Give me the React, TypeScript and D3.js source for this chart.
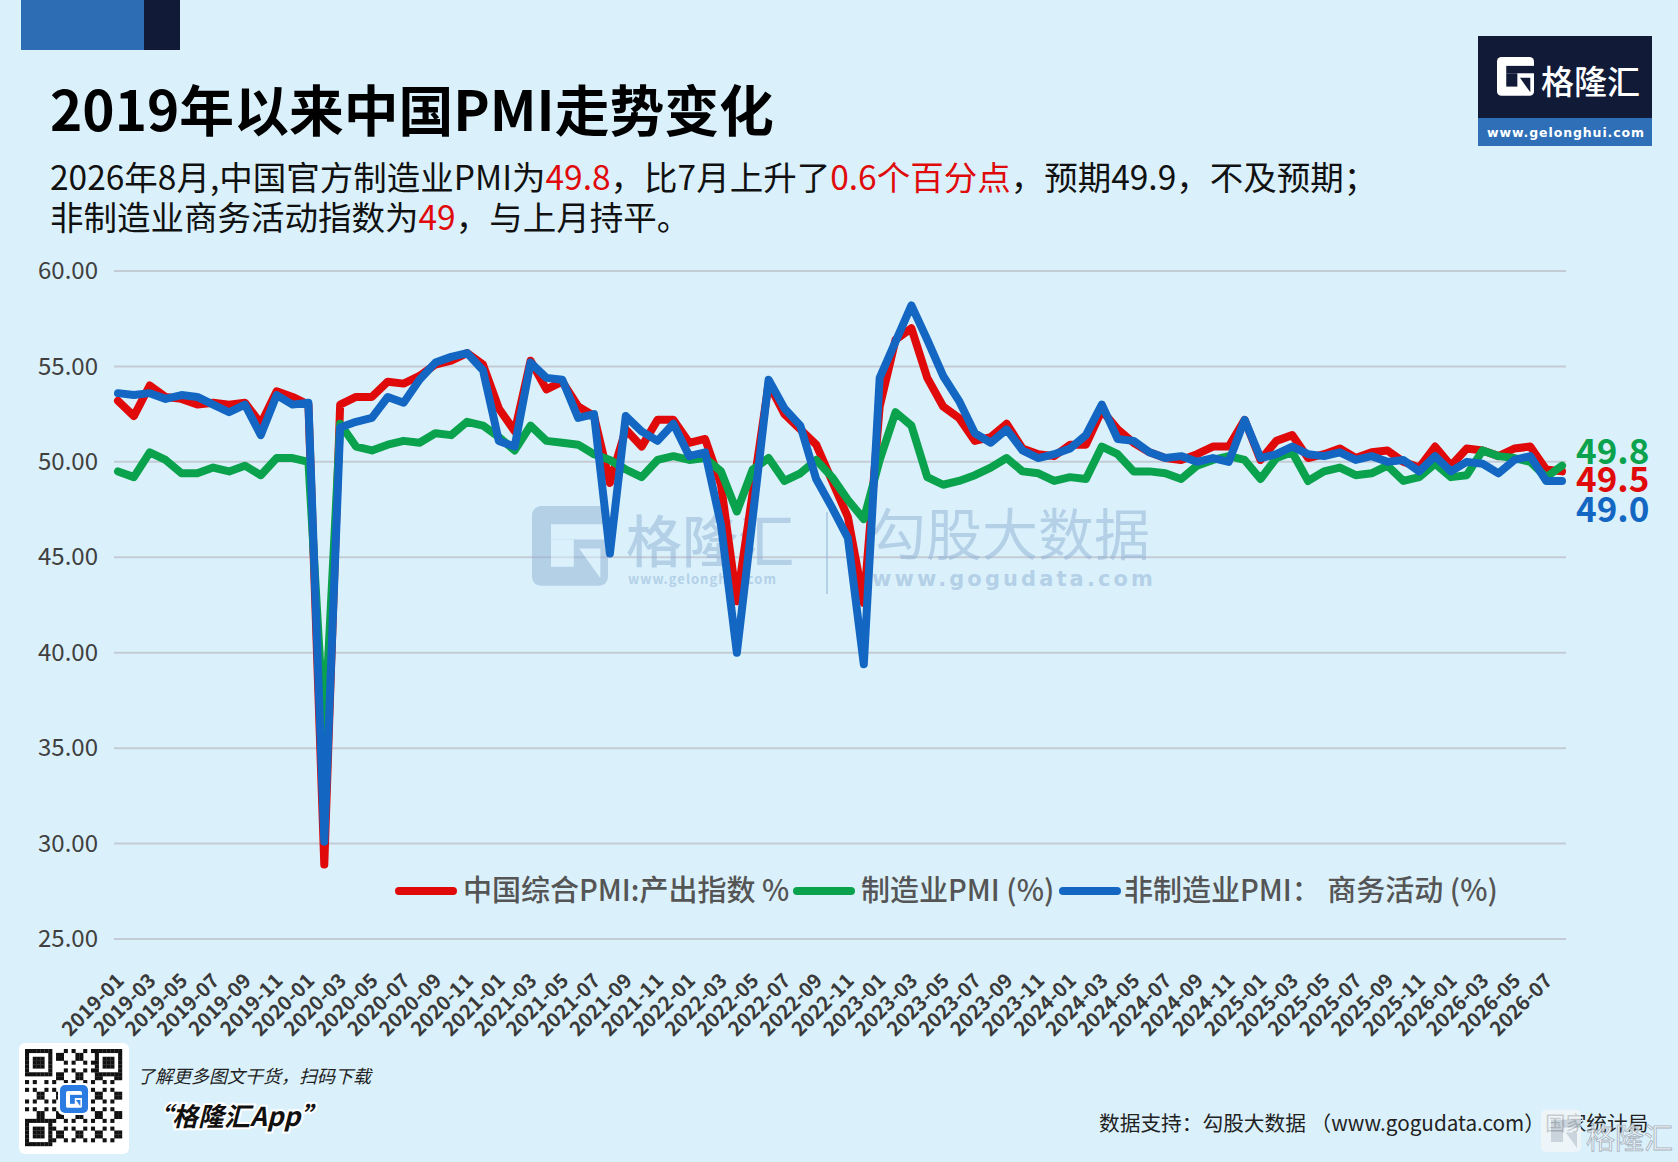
import React, { useEffect, useRef } from 'react';
import * as d3 from 'd3';

// monthly categories 2019-01 .. 2026-08
const months: string[] = [];
for (let yr = 2019; yr <= 2026; yr++) {
  for (let m = 1; m <= 12; m++) {
    if (yr === 2026 && m > 8) break;
    months.push(`${yr}-${String(m).padStart(2, '0')}`);
  }
}

// 中国综合PMI:产出指数 %
const composite = [
  53.2, 52.4, 54.0, 53.4, 53.3, 53.0, 53.1, 53.0, 53.1, 52.0, 53.7, 53.4,
  53.0, 28.9, 53.0, 53.4, 53.4, 54.2, 54.1, 54.5, 55.1, 55.3, 55.7, 55.1,
  52.8, 51.6, 55.3, 53.8, 54.2, 52.9, 52.4, 48.9, 51.7, 50.8, 52.2, 52.2,
  51.0, 51.2, 48.8, 42.7, 48.4, 54.1, 52.5, 51.7, 50.9, 49.0, 47.1, 42.6,
  52.9, 56.4, 57.0, 54.4, 52.9, 52.3, 51.1, 51.3, 52.0, 50.7, 50.4, 50.3,
  50.9, 50.9, 52.7, 51.7, 51.0, 50.5, 50.2, 50.1, 50.4, 50.8, 50.8, 52.2,
  50.1, 51.1, 51.4, 50.2, 50.4, 50.7, 50.2, 50.5, 50.6, 50.0, 49.7, 50.8,
  49.8, 50.7, 50.6, 50.3, 50.7, 50.8, 49.6, 49.5,
];

// 制造业PMI (%)
const manufacturing = [
  49.5, 49.2, 50.5, 50.1, 49.4, 49.4, 49.7, 49.5, 49.8, 49.3, 50.2, 50.2,
  50.0, 35.7, 52.0, 50.8, 50.6, 50.9, 51.1, 51.0, 51.5, 51.4, 52.1, 51.9,
  51.3, 50.6, 51.9, 51.1, 51.0, 50.9, 50.4, 50.1, 49.6, 49.2, 50.1, 50.3,
  50.1, 50.2, 49.5, 47.4, 49.6, 50.2, 49.0, 49.4, 50.1, 49.2, 48.0, 47.0,
  50.1, 52.6, 51.9, 49.2, 48.8, 49.0, 49.3, 49.7, 50.2, 49.5, 49.4, 49.0,
  49.2, 49.1, 50.8, 50.4, 49.5, 49.5, 49.4, 49.1, 49.8, 50.1, 50.3, 50.1,
  49.1, 50.2, 50.5, 49.0, 49.5, 49.7, 49.3, 49.4, 49.8, 49.0, 49.2, 49.9,
  49.2, 49.3, 50.6, 50.3, 50.2, 50.0, 49.2, 49.8,
];

// 非制造业PMI：商务活动 (%)
const nonManufacturing = [
  53.6, 53.5, 53.6, 53.3, 53.5, 53.4, 53.0, 52.6, 53.0, 51.4, 53.5, 53.0,
  53.1, 30.1, 51.8, 52.1, 52.3, 53.4, 53.1, 54.3, 55.2, 55.5, 55.7, 54.8,
  51.1, 50.8, 55.2, 54.4, 54.3, 52.3, 52.5, 45.2, 52.4, 51.6, 51.1, 52.0,
  50.3, 50.5, 46.7, 40.0, 47.1, 54.3, 52.8, 51.9, 49.1, 47.6, 46.0, 39.4,
  54.4, 56.3, 58.2, 56.4, 54.5, 53.2, 51.5, 51.0, 51.7, 50.6, 50.2, 50.4,
  50.7, 51.4, 53.0, 51.2, 51.1, 50.5, 50.2, 50.3, 50.0, 50.2, 50.0, 52.2,
  50.2, 50.4, 50.8, 50.4, 50.3, 50.5, 50.1, 50.3, 50.0, 50.1, 49.5, 50.3,
  49.5, 50.0, 49.9, 49.4, 50.1, 50.3, 49.0, 49.0,
];

const yTicks = [25, 30, 35, 40, 45, 50, 55, 60];
const xTickLabels = months.filter((_, i) => i % 2 === 0);

const seriesNames = ['中国综合PMI:产出指数 %', '制造业PMI (%)', '非制造业PMI： 商务活动 (%)'];
const endLabels = ['49.8', '49.5', '49.0'];

const RED = '#e00a0a';
const GREEN = '#0aa24c';
const BLUE = '#1367c2';
const NAVY = '#111a36';
const FONT = '"Noto Sans CJK SC", "Noto Sans", sans-serif';

// draws the little "G" mark used in the logos
function drawG(g, x0, y0, s, fg, bg) {
  g.append('rect').attr('x', x0).attr('y', y0).attr('width', s).attr('height', s * 1.05)
    .attr('rx', s * 0.12).attr('fill', fg);
  g.append('rect').attr('x', x0 + s * 0.25).attr('y', y0 + s * 0.24)
    .attr('width', s * 0.75).attr('height', s * 0.2).attr('fill', bg);
  g.append('rect').attr('x', x0 + s * 0.25).attr('y', y0 + s * 0.44)
    .attr('width', s * 0.3).attr('height', s * 0.36).attr('fill', bg);
  g.append('path')
    .attr('d', `M${x0 + s * 0.62},${y0 + s * 0.56} L${x0 + s * 0.9},${y0 + s * 0.56} L${x0 + s * 0.9},${y0 + s * 0.95} Z`)
    .attr('fill', bg);
}

const PMIChart = () => {
  const chartRef = useRef(null);

  useEffect(() => {
    document.body.style.margin = '0';
    const W = 1678;
    const H = 1162;

    d3.select(chartRef.current).selectAll('*').remove();

    const svg = d3
      .select(chartRef.current)
      .append('svg')
      .attr('width', W)
      .attr('height', H)
      .style('display', 'block')
      .style('font-family', FONT);

    svg.append('rect').attr('width', W).attr('height', H).attr('fill', '#daf1fc');

    // top-left bar
    svg.append('rect').attr('x', 21).attr('y', 0).attr('width', 123).attr('height', 50).attr('fill', '#2d6db4');
    svg.append('rect').attr('x', 144).attr('y', 0).attr('width', 36).attr('height', 50).attr('fill', NAVY);

    // title
    svg.append('text')
      .attr('x', 50).attr('y', 131)
      .style('font-size', '54.8px').style('font-weight', 700).attr('fill', '#000')
      .text('2019年以来中国PMI走势变化');

    const subtitle = [
      { y: 190, parts: [['2026年8月,中国官方制造业PMI为', '#111'], ['49.8', RED], ['，比7月上升了', '#111'], ['0.6个百分点', RED], ['，预期49.9，不及预期；', '#111']] },
      { y: 230, parts: [['非制造业商务活动指数为', '#111'], ['49', RED], ['，与上月持平。', '#111']] },
    ];
    subtitle.forEach(line => {
      const t = svg.append('text').attr('x', 50).attr('y', line.y).style('font-size', '33.5px');
      line.parts.forEach(([txt, c]) => t.append('tspan').attr('fill', c).text(txt));
    });

    // top-right logo
    const logo = svg.append('g');
    logo.append('rect').attr('x', 1478).attr('y', 36).attr('width', 174).attr('height', 82).attr('fill', NAVY);
    logo.append('rect').attr('x', 1478).attr('y', 118).attr('width', 174).attr('height', 28).attr('fill', '#2e6fb8');
    drawG(logo, 1497, 57, 37, '#ffffff', NAVY);
    logo.append('text').attr('x', 1541).attr('y', 94).attr('fill', '#fff')
      .style('font-size', '33px').style('font-weight', 500).text('格隆汇');
    logo.append('text').attr('x', 1566).attr('y', 137).attr('fill', '#fff').attr('text-anchor', 'middle')
      .style('font-size', '12.5px').style('font-weight', 700).style('letter-spacing', '0.9px')
      .style('font-family', '"DejaVu Sans", sans-serif')
      .text('www.gelonghui.com');

    // scales
    const x = d3.scalePoint().domain(months).range([118, 1562]);
    const y = d3.scaleLinear().domain([25, 60]).range([939, 271]);

    // gridlines
    svg.append('g')
      .selectAll('line')
      .data(yTicks)
      .join('line')
      .attr('x1', 114).attr('x2', 1566)
      .attr('y1', d => y(d)).attr('y2', d => y(d))
      .attr('stroke', '#c3ccd4').attr('stroke-width', 2);

    // y axis labels
    const yAxis = svg.append('g')
      .attr('transform', 'translate(114,0)')
      .call(d3.axisLeft(y).tickValues(yTicks).tickFormat(d3.format('.2f')).tickSize(0).tickPadding(16));
    yAxis.select('.domain').remove();
    yAxis.selectAll('text')
      .style('font-size', '24px').style('font-family', FONT).attr('fill', '#404040');

    // x axis labels
    const xAxis = svg.append('g')
      .attr('transform', 'translate(0,944)')
      .call(d3.axisBottom(x).tickValues(xTickLabels).tickSize(0));
    xAxis.select('.domain').remove();
    xAxis.selectAll('text')
      .attr('x', 0).attr('y', 0).attr('dy', '0.35em')
      .attr('transform', 'translate(2,33) rotate(-45)')
      .attr('text-anchor', 'end')
      .style('font-size', '20px').style('font-weight', 700).style('font-family', FONT)
      .attr('fill', '#3a3a3a');

    // watermark
    const wm = svg.append('g').attr('opacity', 0.5);
    drawG(wm, 532, 506, 76, '#8fb0d4', '#daf1fc');
    wm.append('text').attr('x', 626).attr('y', 562).attr('fill', '#8fb0d4')
      .style('font-size', '56px').style('font-weight', 500).text('格隆汇');
    wm.append('text').attr('x', 628).attr('y', 584).attr('fill', '#8fb0d4')
      .style('font-size', '13px').style('font-weight', 700).style('letter-spacing', '1px')
      .text('www.gelonghui.com');
    wm.append('line').attr('x1', 827).attr('x2', 827).attr('y1', 512).attr('y2', 594)
      .attr('stroke', '#8fb0d4').attr('stroke-width', 2);
    wm.append('text').attr('x', 870).attr('y', 555).attr('fill', '#8fb0d4')
      .style('font-size', '56px').text('勾股大数据');
    wm.append('text').attr('x', 872).attr('y', 586).attr('fill', '#8fb0d4')
      .style('font-size', '21px').style('font-weight', 700).style('letter-spacing', '3.1px')
      .style('font-family', '"DejaVu Sans", sans-serif')
      .text('www.gogudata.com');

    // series lines
    const line = d3.line<number>()
      .x((_, i) => x(months[i]))
      .y(d => y(d));

    const series = [
      { values: composite, color: RED },
      { values: manufacturing, color: GREEN },
      { values: nonManufacturing, color: BLUE },
    ];

    svg.append('g')
      .selectAll('path')
      .data(series)
      .join('path')
      .attr('d', d => line(d.values))
      .attr('fill', 'none')
      .attr('stroke', d => d.color)
      .attr('stroke-width', 8)
      .attr('stroke-linejoin', 'round')
      .attr('stroke-linecap', 'round');

    // end labels (manufacturing, composite, non-manufacturing)
    const endItems = [
      { text: endLabels[0], color: GREEN, y: 464 },
      { text: endLabels[1], color: RED, y: 492 },
      { text: endLabels[2], color: BLUE, y: 522 },
    ];
    endItems.forEach(d => {
      svg.append('text').attr('x', 1576).attr('y', d.y).attr('fill', d.color)
        .style('font-size', '35px').style('font-weight', 700).text(d.text);
    });

    // legend
    const legendPos = [
      { lx: 399, tx: 463, color: RED },
      { lx: 797, tx: 861, color: GREEN },
      { lx: 1063, tx: 1124, color: BLUE },
    ];
    legendPos.forEach((p, i) => {
      svg.append('line').attr('x1', p.lx).attr('x2', p.lx + 54).attr('y1', 891).attr('y2', 891)
        .attr('stroke', p.color).attr('stroke-width', 8).attr('stroke-linecap', 'round');
      svg.append('text').attr('x', p.tx).attr('y', 891).attr('dy', '0.35em')
        .attr('fill', '#555').style('font-size', '29px').style('font-weight', 500)
        .text(seriesNames[i]);
    });

    // footer: QR block
    const qr = svg.append('g');
    qr.append('rect').attr('x', 19).attr('y', 1043).attr('width', 110).attr('height', 111).attr('rx', 6).attr('fill', '#fff');
    const n = 25;
    const cell = 97 / n;
    const finder = (r, c) =>
      (r < 7 && c < 7) || (r < 7 && c >= n - 7) || (r >= n - 7 && c < 7);
    for (let r = 0; r < n; r++) {
      for (let c = 0; c < n; c++) {
        let on;
        if (finder(r, c)) {
          const rr = r >= n - 7 ? r - (n - 7) : r;
          const cc = c >= n - 7 ? c - (n - 7) : c;
          on = rr === 0 || rr === 6 || cc === 0 || cc === 6 || (rr >= 2 && rr <= 4 && cc >= 2 && cc <= 4);
        } else if ((r === 7 || c === 7) && (r < 8 && c < 8)) {
          on = false;
        } else {
          on = ((r * 7 + c * 13 + r * c * 3) % 5) < 2;
        }
        if (on) {
          qr.append('rect').attr('x', 25 + c * cell).attr('y', 1049 + r * cell)
            .attr('width', cell + 0.2).attr('height', cell + 0.2).attr('fill', '#111');
        }
      }
    }
    qr.append('rect').attr('x', 58).attr('y', 1083).attr('width', 32).attr('height', 32).attr('rx', 5).attr('fill', '#fff');
    qr.append('rect').attr('x', 60).attr('y', 1085).attr('width', 28).attr('height', 28).attr('rx', 5).attr('fill', '#2a7be2');
    drawG(qr, 66, 1091, 16, '#fff', '#2a7be2');

    svg.append('text').attr('x', 137).attr('y', 1083).attr('fill', '#222')
      .style('font-size', '18px').style('font-style', 'italic')
      .text('了解更多图文干货，扫码下载');
    svg.append('text').attr('x', 146).attr('y', 1126).attr('fill', '#111')
      .attr('stroke', '#fff').attr('stroke-width', 4).attr('paint-order', 'stroke')
      .style('font-size', '26px').style('font-weight', 700).style('font-style', 'italic')
      .text('“格隆汇App”');

    svg.append('text').attr('x', 1099).attr('y', 1131).attr('fill', '#222')
      .style('font-size', '20.7px')
      .text('数据支持：勾股大数据 （www.gogudata.com）国家统计局');

    // bottom-right faint mark
    const br = svg.append('g').attr('opacity', 0.8);
    drawG(br, 1541, 1110, 40, '#f2f6f9', '#c5ced6');
    br.append('text').attr('x', 1586).attr('y', 1149).attr('fill', '#f2f6f9')
      .attr('stroke', '#9aa4ae').attr('stroke-width', 0.8)
      .style('font-size', '29px').text('格隆汇');
  }, []);

  return <div ref={chartRef}></div>;
};

export default function App() {
  return <PMIChart />;
}
